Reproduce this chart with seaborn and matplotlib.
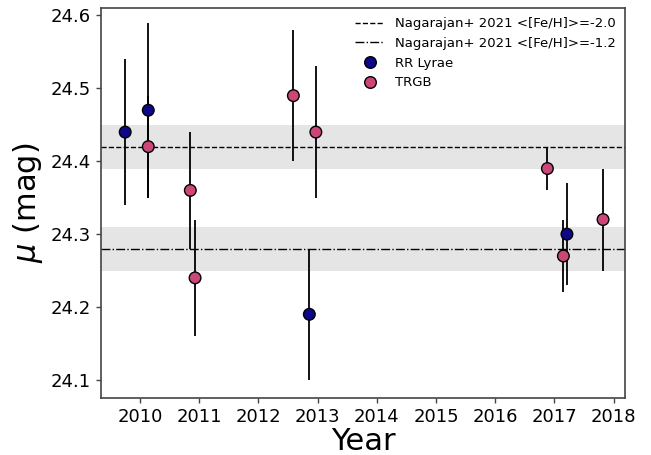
import matplotlib
matplotlib.use("Agg")
import matplotlib.pyplot as plt
import seaborn as sns
import pandas as pd

# Distance modulus measurements by epoch
rrl_year = [2009.75, 2010.14, 2012.86, 2017.21]
rrl_mu = [24.44, 24.47, 24.19, 24.30]
rrl_err = [0.10, 0.12, 0.09, 0.07]

trgb_year = [2010.14, 2010.85, 2010.93, 2012.59, 2012.97, 2016.88, 2017.15, 2017.82]
trgb_mu = [24.42, 24.36, 24.24, 24.49, 24.44, 24.39, 24.27, 24.32]
trgb_err = [0.07, 0.08, 0.08, 0.09, 0.09, 0.03, 0.05, 0.07]

# Reference values (Nagarajan+ 2021)
ref_mu = [24.42, 24.28]
ref_err = [0.03, 0.03]
ref_labels = ["Nagarajan+ 2021 <[Fe/H]>=-2.0", "Nagarajan+ 2021 <[Fe/H]>=-1.2"]
ref_styles = ["--", "-."]

xticks = [2010, 2011, 2012, 2013, 2014, 2015, 2016, 2017, 2018]
yticks = [24.1, 24.2, 24.3, 24.4, 24.5, 24.6]

sns.set_theme(style="ticks")
plt.rcParams["font.family"] = ["DejaVu Sans"]
plt.rcParams["text.color"] = "black"
plt.rcParams["axes.labelcolor"] = "black"
plt.rcParams["axes.edgecolor"] = "#444444"
plt.rcParams["axes.linewidth"] = 1.2
plt.rcParams["xtick.color"] = "#444444"
plt.rcParams["ytick.color"] = "#444444"
plt.rcParams["xtick.labelcolor"] = "black"
plt.rcParams["ytick.labelcolor"] = "black"

df = pd.DataFrame({
    "Year": rrl_year + trgb_year,
    "mu": rrl_mu + trgb_mu,
    "err": rrl_err + trgb_err,
    "method": ["RR Lyrae"] * len(rrl_year) + ["TRGB"] * len(trgb_year),
})

fig = plt.figure(figsize=(6.51, 4.55), dpi=100)
ax = fig.add_axes([0.155, 0.125, 0.805, 0.857])

xlim = (2009.34, 2018.19)
for m, e, lab, ls in zip(ref_mu, ref_err, ref_labels, ref_styles):
    ax.axhspan(m - e, m + e, color="#e5e5e5", lw=0, zorder=0)
    ax.axhline(m, color="black", ls=ls, lw=1.0, label=lab, zorder=1)

ax.errorbar(df["Year"], df["mu"], yerr=df["err"], fmt="none",
            ecolor="black", elinewidth=1.3, capsize=0, zorder=2)

palette = {"RR Lyrae": "#0d0887", "TRGB": "#cc4778"}
sns.scatterplot(data=df, x="Year", y="mu", hue="method", palette=palette,
                s=70, edgecolor="black", linewidth=1.0, ax=ax, zorder=3)

ax.set_xlim(*xlim)
ax.set_ylim(24.075, 24.61)
ax.set_xticks(xticks)
ax.set_yticks(yticks)
ax.set_xticklabels([str(t) for t in xticks])
ax.tick_params(labelsize=13, length=3.5, width=1)
ax.set_xlabel("Year", fontsize=22, labelpad=1)
ax.set_ylabel(r"$\mu$ (mag)", fontsize=22)

leg = ax.legend(loc="upper right", frameon=False, fontsize=9.5, handlelength=2.2,
                borderaxespad=0.3, title=None)

fig.savefig("out.png", dpi=100)
